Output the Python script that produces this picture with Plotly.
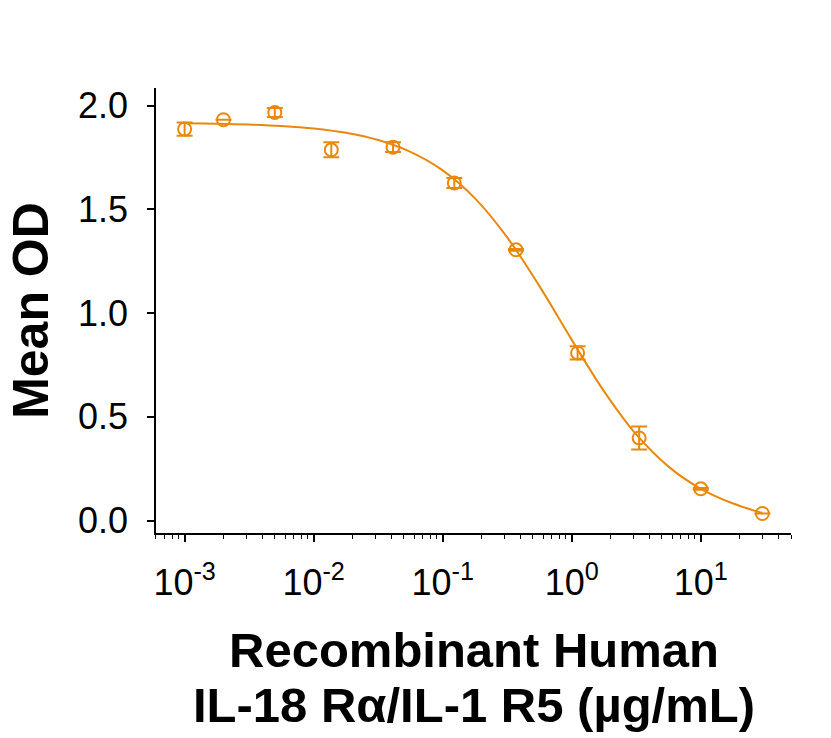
import plotly.graph_objects as go

# Measured data points (concentration in µg/mL, mean OD, error)
conc = [0.001, 0.002, 0.005, 0.0137, 0.0412, 0.123, 0.37, 1.11, 3.33, 10.0, 30.0]
mean_od = [1.887, 1.932, 1.967, 1.787, 1.800, 1.627, 1.305, 0.808, 0.398, 0.153, 0.034]
err_od = [0.032, None, 0.022, 0.036, 0.024, 0.024, 0.004, 0.032, 0.055, 0.004, None]

# Fitted curve
curve_x = [0.001, 0.00178, 0.00316, 0.00562, 0.01, 0.0178, 0.0316, 0.0562, 0.1,
           0.178, 0.316, 0.562, 1.0, 1.78, 3.16, 5.62, 10.0, 17.8, 30.0]
curve_y = [1.915, 1.913, 1.909, 1.902, 1.890, 1.869, 1.834, 1.777, 1.688,
           1.553, 1.365, 1.130, 0.871, 0.623, 0.415, 0.260, 0.153, 0.082, 0.036]

x_tickvals = [0.001, 0.01, 0.1, 1, 10]
x_ticktext = ["10<sup>-3</sup>", "10<sup>-2</sup>", "10<sup>-1</sup>", "10<sup>0</sup>", "10<sup>1</sup>"]
y_tickvals = [0.0, 0.5, 1.0, 1.5, 2.0]
y_ticktext = ["0.0", "0.5", "1.0", "1.5", "2.0"]
x_title_lines = ["Recombinant Human", "IL-18 Rα/IL-1 R5 (µg/mL)"]
y_title = "Mean OD"

ORANGE = "#E8890E"
FONT = "Liberation Sans, Arial, sans-serif"

fig = go.Figure()
fig.add_trace(go.Scatter(
    x=curve_x, y=curve_y, mode="lines", line=dict(color=ORANGE, width=2, shape="spline"),
    hoverinfo="skip", showlegend=False,
))
fig.add_trace(go.Scatter(
    x=conc, y=mean_od, mode="markers",
    marker=dict(symbol="circle-open", size=13, color=ORANGE, line=dict(width=2, color=ORANGE)),
    error_y=dict(type="data", array=err_od, visible=True, color=ORANGE, thickness=2, width=8),
    showlegend=False,
))

# x-axis title lines (two separate lines for tighter spacing)
for txt, ypos in zip(x_title_lines, [-0.262, -0.386]):
    fig.add_annotation(
        text=f"<b>{txt}</b>", xref="paper", yref="paper", x=0.5, y=ypos,
        xanchor="center", yanchor="middle", showarrow=False,
        font=dict(family=FONT, size=49, color="black"),
    )

fig.update_layout(
    width=831, height=738,
    margin=dict(l=156, r=40, t=88, b=205),
    paper_bgcolor="white", plot_bgcolor="white",
    font=dict(family=FONT, color="black"),
    xaxis=dict(
        type="log", range=[-3.2218, 1.699], automargin=False,
        tickmode="array", tickvals=x_tickvals, ticktext=x_ticktext,
        ticks="outside", ticklen=7, tickwidth=1.5, tickcolor="black",
        minor=dict(ticks="outside", ticklen=4, tickwidth=1, tickcolor="black", dtick="D1", showgrid=False),
        showline=True, linecolor="black", linewidth=1.5,
        showgrid=False, zeroline=False,
        tickfont=dict(family=FONT, size=36, color="black"),
        ticklabelstandoff=10,
    ),
    yaxis=dict(
        range=[-0.06, 2.085], automargin=False,
        tickmode="array", tickvals=y_tickvals, ticktext=y_ticktext,
        ticks="outside", ticklen=7, tickwidth=1.5, tickcolor="black",
        showline=True, linecolor="black", linewidth=1.5,
        showgrid=False, zeroline=False,
        tickfont=dict(family=FONT, size=36, color="black"),
        ticklabelstandoff=12,
        title=dict(text=f"<b>{y_title}</b>", font=dict(family=FONT, size=50, color="black"), standoff=14),
    ),
)

fig.write_html(
    "out.html",
    config={"displayModeBar": False},
    post_script="document.body.style.margin='0';document.body.style.overflow='hidden';",
)
